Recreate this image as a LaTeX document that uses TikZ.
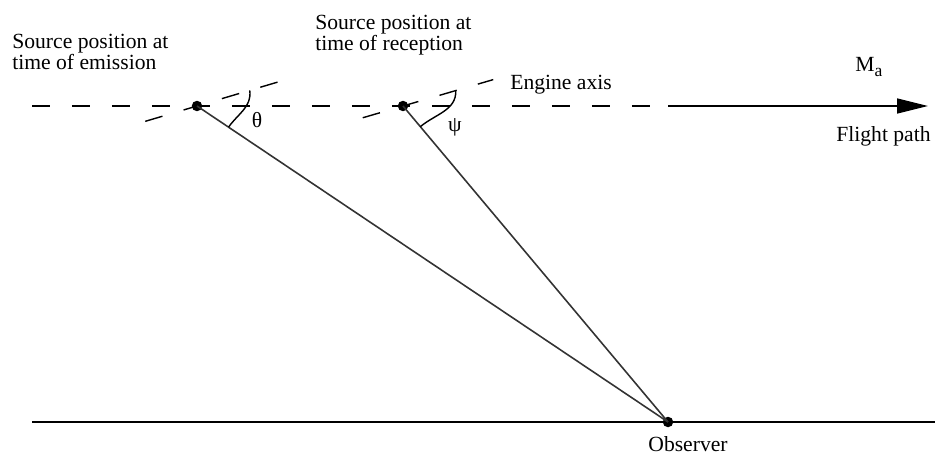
\documentclass[tikz,border=0pt]{standalone}
\usepackage{fontspec}
\setmainfont{Liberation Serif}
\usetikzlibrary{arrows.meta, positioning, calc}

\begin{document}
\begin{tikzpicture}[
    x=0.02cm, y=0.02cm,
    path/.style={line width=0.9pt, dash pattern=on 0.36cm off 0.44cm},
    axisline/.style={line width=0.8pt, dash pattern=on 0.36cm off 0.44cm},
    ray/.style={line width=0.9pt, black!80},
    angmark/.style={line width=0.8pt},
    dot/.style={circle, fill=black, inner sep=0pt, minimum size=0.21cm},
    lbl/.style={inner sep=0pt, align=left},
    font=\fontsize{12.3}{11.9}\selectfont
]
\useasboundingbox (0,0) rectangle (935,457);

% Points
\node[dot] (s1) at (197,351) {};
\node[dot] (s2) at (403,351) {};
\node[dot] (obs) at (668,35) {};

% Flight path and ground
\coordinate (fp0) at (32,351);
\coordinate (fp1) at (650,351);
\coordinate (fp2) at (668,351);
\coordinate (fp3) at (928,351);
\coordinate (g0) at (32,35);
\coordinate (g1) at (935,35);
\draw[path] (fp0) -- (fp1);
\draw[line width=0.9pt, -{Triangle[length=0.62cm, width=0.3cm]}] (fp2) -- (fp3);
\draw[line width=0.9pt] (g0) -- (g1);

% Engine axis
\draw[axisline] ($(s1.center)+(196.5:54)$) -- ($(s1.center)+(16.5:84)$);
\draw[axisline] ($(s2.center)+(196.3:42)$) -- ($(s2.center)+(16.3:94)$);

% Rays to observer
\draw[ray] (s1.center) -- (obs.center);
\draw[ray] (s2.center) -- (obs.center);

% Angles
\draw[angmark] ($(s1.center)+(16.5:55)$) to[out=-82, in=55] ($(s1.center)!0.76cm!(obs.center)$);
\draw[angmark] ($(s2.center)+(16.3:55)$) to[out=-88, in=40] ($(s2.center)!0.54cm!(obs.center)$);
\node (theta) at (257,337) {θ};
\node (psi) at (455,330) {ψ};

% Labels
\node[lbl, anchor=north west] (emis) at (12,423) {Source position at\\time of emission};
\node[lbl, anchor=north west] (recp) at (315,442) {Source position at\\time of reception};
\node[lbl, anchor=base west] (eng) at (510,367) {Engine axis};
\node[lbl, anchor=base west] (mach) at (855,385) {M\raisebox{-0.45ex}{\fontsize{10}{10}\selectfont a}};
\node[lbl, anchor=base west] (flight) at (836,316) {Flight path};
\node[lbl, anchor=base] (obslbl) at (688,6) {Observer};

\end{tikzpicture}
\end{document}
